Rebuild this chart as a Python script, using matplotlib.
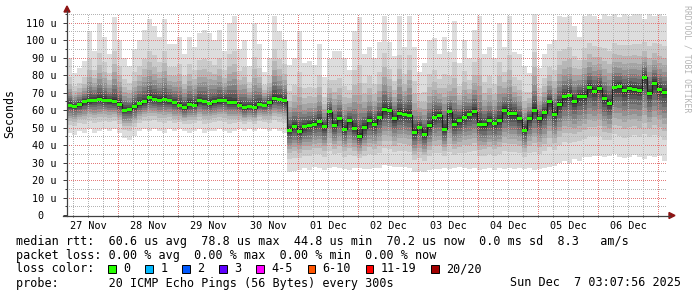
import matplotlib
matplotlib.use('Agg')
import matplotlib.pyplot as plt
from matplotlib.lines import Line2D
from matplotlib.patches import Rectangle, Polygon
import numpy as np
import pandas as pd

W, H = 697, 297
MONO = 'DejaVu Sans Mono'

# one slot = 2 hours of smokeping data
start = pd.Timestamp('2025-11-27 03:30')
slot_hours = 2

# median rtt per slot (us)
median = [62.8, 62.2, 63.1, 64.7, 65.2, 65.6, 66.0, 65.6, 65.2, 64.7,
          63.3, 59.9, 60.5, 61.8, 63.7, 64.7, 67.1, 66.0, 65.6, 66.0,
          65.2, 64.1, 62.8, 61.4, 63.3, 62.8, 65.2, 64.7, 63.7, 64.7,
          65.2, 65.6, 64.5, 64.1, 62.8, 61.4, 62.2, 61.4, 63.3, 62.8,
          64.1, 66.5, 66.0, 65.2,
          48.5, 50.8, 47.5, 50.4, 51.3, 52.0, 53.2, 50.5, 59.0, 51.3,
          55.1, 48.9, 53.8, 49.4, 44.8,
          50.0, 54.0, 52.0, 55.5, 60.3, 59.9, 55.0, 58.0, 57.6, 57.0,
          47.0, 50.0, 46.0, 51.0, 56.0, 57.0, 49.0, 59.0, 52.0, 54.0,
          56.0, 57.6, 59.0, 52.0, 51.5, 54.0, 52.3, 54.0, 60.0, 57.8, 58.0,
          55.0, 48.5, 55.0, 60.0, 55.0, 58.5, 65.0, 57.6, 63.0, 67.5,
          68.5, 64.7, 68.0, 68.0, 73.0, 70.5, 72.5, 66.5, 63.5, 73.0,
          73.5, 71.0, 72.3, 72.0, 71.3, 78.8, 69.6, 75.3, 71.7, 70.2]

# fastest ping per slot (us)
fastest = [47, 46, 48, 47, 49, 47, 48, 49, 48, 49,
           47, 44, 43, 45, 48, 49, 48, 49, 48, 47,
           49, 48, 49, 48, 47, 48, 49, 47, 48, 48,
           49, 48, 47, 48, 49, 48, 49, 48, 50, 49,
           48, 49, 48, 47,
           24.7, 25.0, 26.0, 27.0, 26.0, 27.5, 27.0, 26.0, 27.0, 27.5,
           27.0, 26.5, 26.0, 27.0, 27.0,
           26.5, 26.5, 27.0, 27.0, 28.5, 28.0, 27.5, 27.5, 27.5, 27.0,
           24.7, 25.0, 24.7, 26.0, 26.5, 26.5, 27.0, 26.5, 27.0, 27.5,
           27.0, 26.5, 27.0, 26.0, 26.5, 27.0, 26.0, 27.0, 26.5, 27.0, 26.5,
           27.0, 26.5, 27.0, 26.0, 26.5, 27.0, 27.5, 28.0,
           30, 31, 29.5, 32, 31, 33, 33, 34, 33.5, 33,
           34, 35, 33, 32.5, 33, 34.5, 33, 32, 34, 33, 33.5, 31]

# slowest ping per slot (us)
slowest = [90, 81, 84, 88, 105, 94, 110, 102, 92, 113,
           100, 90, 85, 95, 100, 106, 112, 108, 102, 112,
           98, 98, 102, 92, 102, 96, 104, 106, 104, 100,
           106, 94, 110, 114, 95, 100, 85, 110, 98, 82,
           90, 114, 105, 100,
           86, 90, 105, 87, 88, 86, 98, 79, 89, 94,
           94, 90, 83, 105, 113,
           92, 96, 90, 99, 114, 99, 91, 114, 96, 114,
           96, 82, 87, 100, 101, 92, 102, 93, 111, 87,
           100, 90, 106, 114, 92, 96, 90, 110, 96, 114, 93,
           92, 85, 81, 115, 84, 92, 98, 100, 114, 113,
           114, 108, 102, 114, 115, 114, 112, 115, 114, 115,
           113, 115, 114, 115, 115, 112, 115, 114, 115, 114]

y_ticks = [0, 10, 20, 30, 40, 50, 60, 70, 80, 90, 100, 110]

loss_labels = ['0', '1', '2', '3', '4-5', '6-10', '11-19', '20/20']
loss_colors = ['#26ff00', '#00b8ff', '#0059ff', '#5e00ff',
               '#ff00ff', '#ff5500', '#ff0000', '#a10000']

rtt_stats = [60.6, 78.8, 44.8, 70.2]   # avg, max, min, now
rtt_sd = 0.0
am_s = 8.3
loss_stats = [0.00, 0.00, 0.00, 0.00]

med = np.array(median)
lo = np.array(fastest)
hi = np.array(slowest)
n = len(med)
edges = np.arange(n + 1) * slot_hours
span = n * slot_hours

fig = plt.figure(figsize=(W / 100, H / 100), dpi=100)
fig.patch.set_facecolor('white')

# plot area in pixels: x 67..667, y 13..215
ymax = 115.5
ax = fig.add_axes([67 / W, (H - 215) / H, 600 / W, 202 / H])
ax.set_xlim(0, span)
ax.set_ylim(0, ymax)
for s in ax.spines.values():
    s.set_visible(False)

# smoke: outer pings light, inner pings dark
up_frac = [1.0, 0.6, 0.45, 0.35, 0.27, 0.2, 0.15, 0.1, 0.06, 0.03]
dn_frac = [1.0, 0.7, 0.56, 0.46, 0.38, 0.3, 0.22, 0.15, 0.09, 0.04]
grays = [221, 202, 183, 164, 145, 126, 107, 88, 69, 50]
for uf, df, g in zip(up_frac, dn_frac, grays):
    top = np.minimum(med + (hi - med) * uf, ymax)
    bot = med - (med - lo) * df
    ax.fill_between(edges, np.append(bot, bot[-1]), np.append(top, top[-1]),
                    step='post', color='#%02x%02x%02x' % (g, g, g),
                    linewidth=0, zorder=1)

# dotted grid (red = major, grey = minor), 1 px on / 1 px off
red_grid = '#e47a7a'
grey_grid = '#b4b4b4'
dots = (0.55, 1.45)
for v in range(5, 116, 5):
    c = red_grid if v % 10 == 0 else grey_grid
    ax.axhline(v, color=c, lw=0.72, dashes=dots, antialiased=False,
               zorder=2)

six_h = pd.date_range('2025-11-27 06:00', '2025-12-07 00:00', freq='6h')
hrs = lambda t: (t - start) / pd.Timedelta(hours=1)
for t in six_h:
    c = red_grid if t.hour == 0 else grey_grid
    ax.axvline(hrs(t), color=c, lw=0.72, dashes=dots, antialiased=False,
               zorder=2)

# median line + loss colored marks
ax.plot(edges, np.append(med, med[-1]), drawstyle='steps-post',
        color='#202020', lw=0.9, zorder=3)
mh = 0.85
ax.fill_between(edges, np.append(med - mh, med[-1] - mh),
                np.append(med + mh, med[-1] + mh),
                step='post', color=loss_colors[0], linewidth=0, zorder=4)

# ticks
noons = [hrs(t) for t in pd.date_range('2025-11-27 12:00', periods=10, freq='D')]
ax.set_xticks(noons)
ax.set_xticklabels([t.strftime('%d %b') for t in
                    pd.date_range('2025-11-27', periods=10, freq='D')])
ax.set_xticks([hrs(t) for t in six_h], minor=True)
ax.set_yticks(y_ticks)
ax.set_yticklabels([f'{v} u' if v else '0  ' for v in y_ticks])
ax.set_yticks(range(5, 116, 10), minor=True)
ax.tick_params(axis='x', which='both', length=1.5, width=0.72,
               color='#404040', pad=3, labelsize=7.3)
ax.tick_params(axis='y', which='major', length=2.6, width=0.72,
               color='#404040', pad=5.2, labelsize=7.3)
ax.tick_params(axis='y', which='minor', length=1.5, width=0.72,
               color='#404040')
for lab in ax.get_xticklabels() + ax.get_yticklabels():
    lab.set_fontfamily(MONO)


def fx(x):
    return x / W


def fy(y):
    return 1 - y / H


# axis lines with arrows
axis_c = '#404040'
arrow_c = '#8e1414'
fig.add_artist(Line2D([fx(67), fx(67)], [fy(216), fy(11)], color=axis_c,
                      lw=0.9, transform=fig.transFigure))
fig.add_artist(Line2D([fx(63), fx(670)], [fy(215.5), fy(215.5)], color=axis_c,
                      lw=0.9, transform=fig.transFigure))
fig.add_artist(Polygon([[fx(67), fy(6)], [fx(64), fy(12)], [fx(70), fy(12)]],
                       closed=True, color=arrow_c, transform=fig.transFigure))
fig.add_artist(Polygon([[fx(675), fy(215.5)], [fx(669), fy(212.5)],
                        [fx(669), fy(218.5)]],
                       closed=True, color=arrow_c, transform=fig.transFigure))

# labels
fig.text(fx(10), fy(114), 'Seconds', rotation=90, ha='center', va='center',
         fontsize=8.4, family=MONO)
fig.text(fx(687), fy(59), 'RRDTOOL / TOBI OETIKER', rotation=270,
         ha='center', va='center', fontsize=5.9, family=MONO, color='#b4b4b4')

# legend
lx = 16
line1 = ('median rtt:  %.1f us avg  %.1f us max  %.1f us min  %.1f us now'
         '  %.1f ms sd  %.1f   am/s' % (*rtt_stats, rtt_sd, am_s))
line2 = 'packet loss: %.2f %% avg  %.2f %% max  %.2f %% min  %.2f %% now' % tuple(loss_stats)
fig.text(fx(lx), fy(241), line1, ha='left', va='center', fontsize=8.5, family=MONO)
fig.text(fx(lx), fy(255), line2, ha='left', va='center', fontsize=8.5, family=MONO)
fig.text(fx(lx), fy(269), 'loss color:', ha='left', va='center',
         fontsize=8.5, family=MONO)
bx = 108.3
for lab, col in zip(loss_labels, loss_colors):
    fig.add_artist(Rectangle((fx(bx), fy(273)), 7.5 / W, 8 / H, facecolor=col,
                             edgecolor='#000000', lw=0.7,
                             transform=fig.transFigure))
    fig.text(fx(bx + 15), fy(269), lab, ha='left', va='center',
             fontsize=8.5, family=MONO)
    bx += 15.7 + (len(lab) + 2) * 7.1
fig.text(fx(lx), fy(283), 'probe:       20 ICMP Echo Pings (56 Bytes) every 300s',
         ha='left', va='center', fontsize=8.5, family=MONO)
fig.text(fx(681), fy(283), 'Sun Dec  7 03:07:56 2025', ha='right', va='center',
         fontsize=8.5, family=MONO)

fig.savefig('out.png', dpi=100, facecolor='white')
